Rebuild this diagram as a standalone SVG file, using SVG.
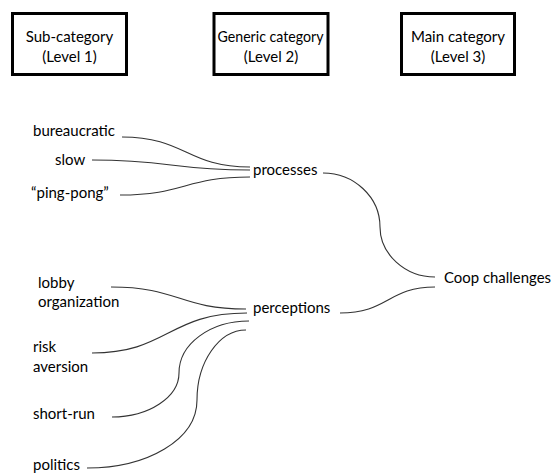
<svg xmlns="http://www.w3.org/2000/svg" width="553" height="473" viewBox="0 0 553 473">
<style>
  text { font-family: Lato, "Open Sans", "Liberation Sans", sans-serif; font-size: 15px; fill: #000; }
  .box rect { fill: #fff; stroke: #000; stroke-width: 3; }
  .mid { text-anchor: middle; }
  #connectors path { fill: none; stroke: #333; stroke-width: 1.1; }
</style>
<rect width="553" height="473" fill="#fff"/>
<g id="box-level1" class="box">
  <rect x="12.5" y="13.5" width="114" height="61"/>
  <text class="mid" x="69.5" y="42">Sub-category</text>
  <text class="mid" x="69.5" y="62">(Level 1)</text>
</g>
<g id="box-level2" class="box">
  <rect x="214" y="13.5" width="114" height="61"/>
  <text class="mid" x="270.5" y="42" textLength="106" lengthAdjust="spacingAndGlyphs">Generic category</text>
  <text class="mid" x="271" y="62">(Level 2)</text>
</g>
<g id="box-level3" class="box">
  <rect x="401.5" y="13.5" width="113" height="61"/>
  <text class="mid" x="458" y="42">Main category</text>
  <text class="mid" x="458" y="62">(Level 3)</text>
</g>
<g id="connectors">
  <path d="M122,137 C186,137 186,167 250,167"/>
  <path d="M92,160 C171,160 171,170 250,170"/>
  <path d="M120,195 C185,195 185,177 250,177"/>
  <path d="M323,173 C354,173 380,197 380,227 C380,254 405,277 435,277"/>
  <path d="M340,313 C388,313 388,287 435,287"/>
  <path d="M111,287 C179,287 179,309 246,309"/>
  <path d="M92,353 C168,353 168,313 247,313"/>
  <path d="M112,417 C149,417 179,397 179,373 C179,344 210,321 249,321"/>
  <path d="M87,468 C147,468 197,440 197,400 C197,362 219,330 246,330"/>
</g>
<g id="n-bureaucratic"><text x="33" y="136">bureaucratic</text></g>
<g id="n-slow"><text x="55" y="165">slow</text></g>
<g id="n-pingpong"><text x="31" y="198">“ping-pong”</text></g>
<g id="n-processes"><text x="253" y="175">processes</text></g>
<g id="n-lobby"><text x="38" y="288">lobby</text><text x="38" y="307">organization</text></g>
<g id="n-risk"><text x="33" y="352">risk</text><text x="33" y="372">aversion</text></g>
<g id="n-shortrun"><text x="33" y="419">short-run</text></g>
<g id="n-politics"><text x="33" y="470">politics</text></g>
<g id="n-perceptions"><text x="253" y="313">perceptions</text></g>
<g id="n-coop"><text x="444" y="283" textLength="107" lengthAdjust="spacingAndGlyphs">Coop challenges</text></g>
</svg>
